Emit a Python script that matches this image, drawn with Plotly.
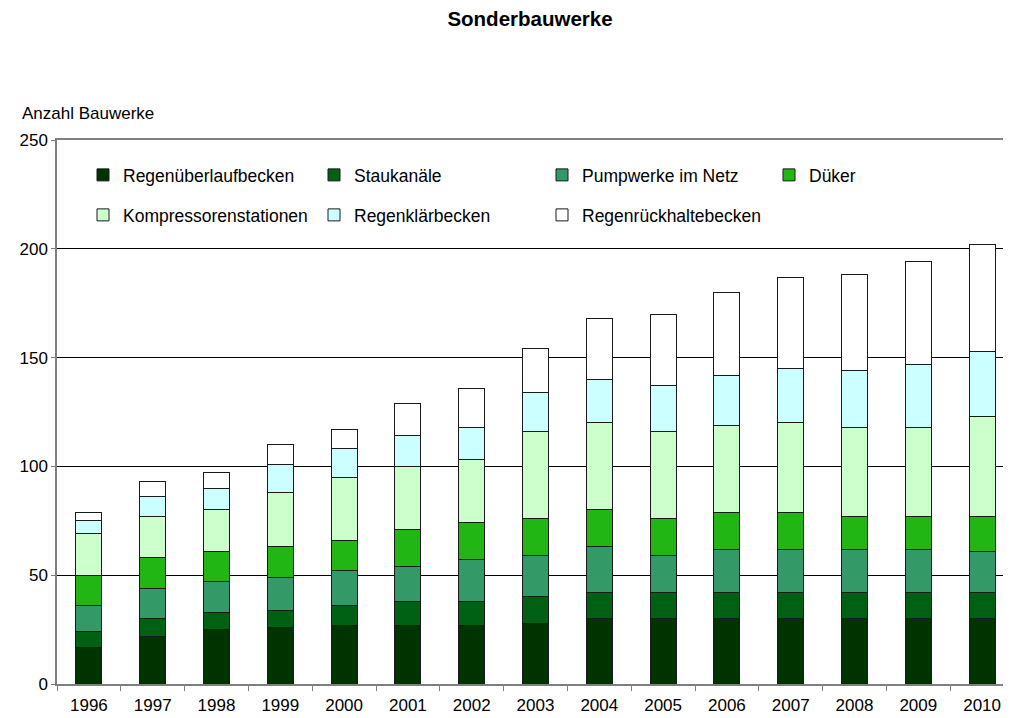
import plotly.graph_objects as go

years = [str(y) for y in range(1996, 2011)]

regenueberlaufbecken = [17, 22, 25, 26, 27, 27, 27, 28, 30, 30, 30, 30, 30, 30, 30]
staukanaele          = [7, 8, 8, 8, 9, 11, 11, 12, 12, 12, 12, 12, 12, 12, 12]
pumpwerke            = [12, 14, 14, 15, 16, 16, 19, 19, 21, 17, 20, 20, 20, 20, 19]
dueker               = [14, 14, 14, 14, 14, 17, 17, 17, 17, 17, 17, 17, 15, 15, 16]
kompressoren         = [19, 19, 19, 25, 29, 29, 29, 40, 40, 40, 40, 41, 41, 41, 46]
regenklaerbecken     = [6, 9, 10, 13, 13, 14, 15, 18, 20, 21, 23, 25, 26, 29, 30]
regenrueckhalte      = [4, 7, 7, 9, 9, 15, 18, 20, 28, 33, 38, 42, 44, 47, 49]

series_names = ["Regenüberlaufbecken", "Staukanäle", "Pumpwerke im Netz", "Düker",
                "Kompressorenstationen", "Regenklärbecken", "Regenrückhaltebecken"]
series_values = [regenueberlaufbecken, staukanaele, pumpwerke, dueker,
                 kompressoren, regenklaerbecken, regenrueckhalte]
series_colors = ["#003300", "#006114", "#339966", "#21B614",
                 "#CCFFCC", "#CCFFFF", "#FFFFFF"]

FONT = "Liberation Sans, Arial, Helvetica, sans-serif"

# page has an 8px body margin; figure coordinates = screen - 8
OFF = 8
W, H = 1011, 718
L, R = 57 - OFF, 5
T = 140 - OFF
B = H - (684 - OFF)
pw = W - L - R
ph = H - T - B


def px_x(sx):
    return (sx - OFF - L) / pw


def px_y(sy):
    return (H - B - (sy - OFF)) / ph


# legend text start positions (screen px) and row centers
legend_text_x = [123, 354, 582, 809, 123, 354, 582]
legend_row_y = [175, 175, 175, 175, 215, 215, 215]

fig = go.Figure()
layout_legends = {}
for i, (name, vals, color) in enumerate(zip(series_names, series_values, series_colors)):
    lg = "legend" if i == 0 else f"legend{i + 1}"
    fig.add_trace(go.Bar(
        x=years, y=vals, name=name, legend=lg, showlegend=True,
        marker=dict(color=color, line=dict(color="#1a1a1a", width=1)),
    ))
    layout_legends[lg] = dict(
        orientation="h", xanchor="left", yanchor="middle",
        x=px_x(legend_text_x[i] - 40), y=px_y(legend_row_y[i]),
        font=dict(family=FONT, size=17.5, color="#000"),
        bgcolor="rgba(0,0,0,0)", itemclick=False, itemdoubleclick=False,
    )

fig.update_layout(
    width=W, height=H,
    margin=dict(l=L, r=R, t=T, b=B),
    paper_bgcolor="white", plot_bgcolor="white",
    showlegend=True,
    barmode="stack", bargap=0.59,
    font=dict(family=FONT, size=17, color="#000"),
    title=dict(text="<b>Sonderbauwerke</b>", x=(530 - OFF) / W, xref="container",
               xanchor="center", y=1 - 4 / H, yanchor="top",
               font=dict(family=FONT, size=20.5, color="#000")),
    xaxis=dict(
        type="category", range=[-0.5, 14.5],
        showgrid=False, showline=True, linecolor="#808080", linewidth=1.5,
        mirror=True,
        ticks="outside", tickson="boundaries", ticklen=5, tickcolor="#808080",
        ticklabelstandoff=5,
        tickfont=dict(family=FONT, size=17, color="#000"),
    ),
    yaxis=dict(
        range=[0, 250], tickvals=[0, 50, 100, 150, 200, 250],
        showgrid=True, gridcolor="#000000", gridwidth=1,
        showline=True, linecolor="#808080", linewidth=1.5,
        ticks="outside", ticklen=4, tickcolor="#808080",
        tickfont=dict(family=FONT, size=17, color="#000"),
        zeroline=False,
    ),
    annotations=[dict(
        text="Anzahl Bauwerke", xref="paper", yref="paper",
        x=px_x(20), y=px_y(113), xanchor="left", yanchor="middle",
        showarrow=False, font=dict(family=FONT, size=17, color="#000"),
    )],
    **layout_legends,
)

fig.write_html("out.html")
